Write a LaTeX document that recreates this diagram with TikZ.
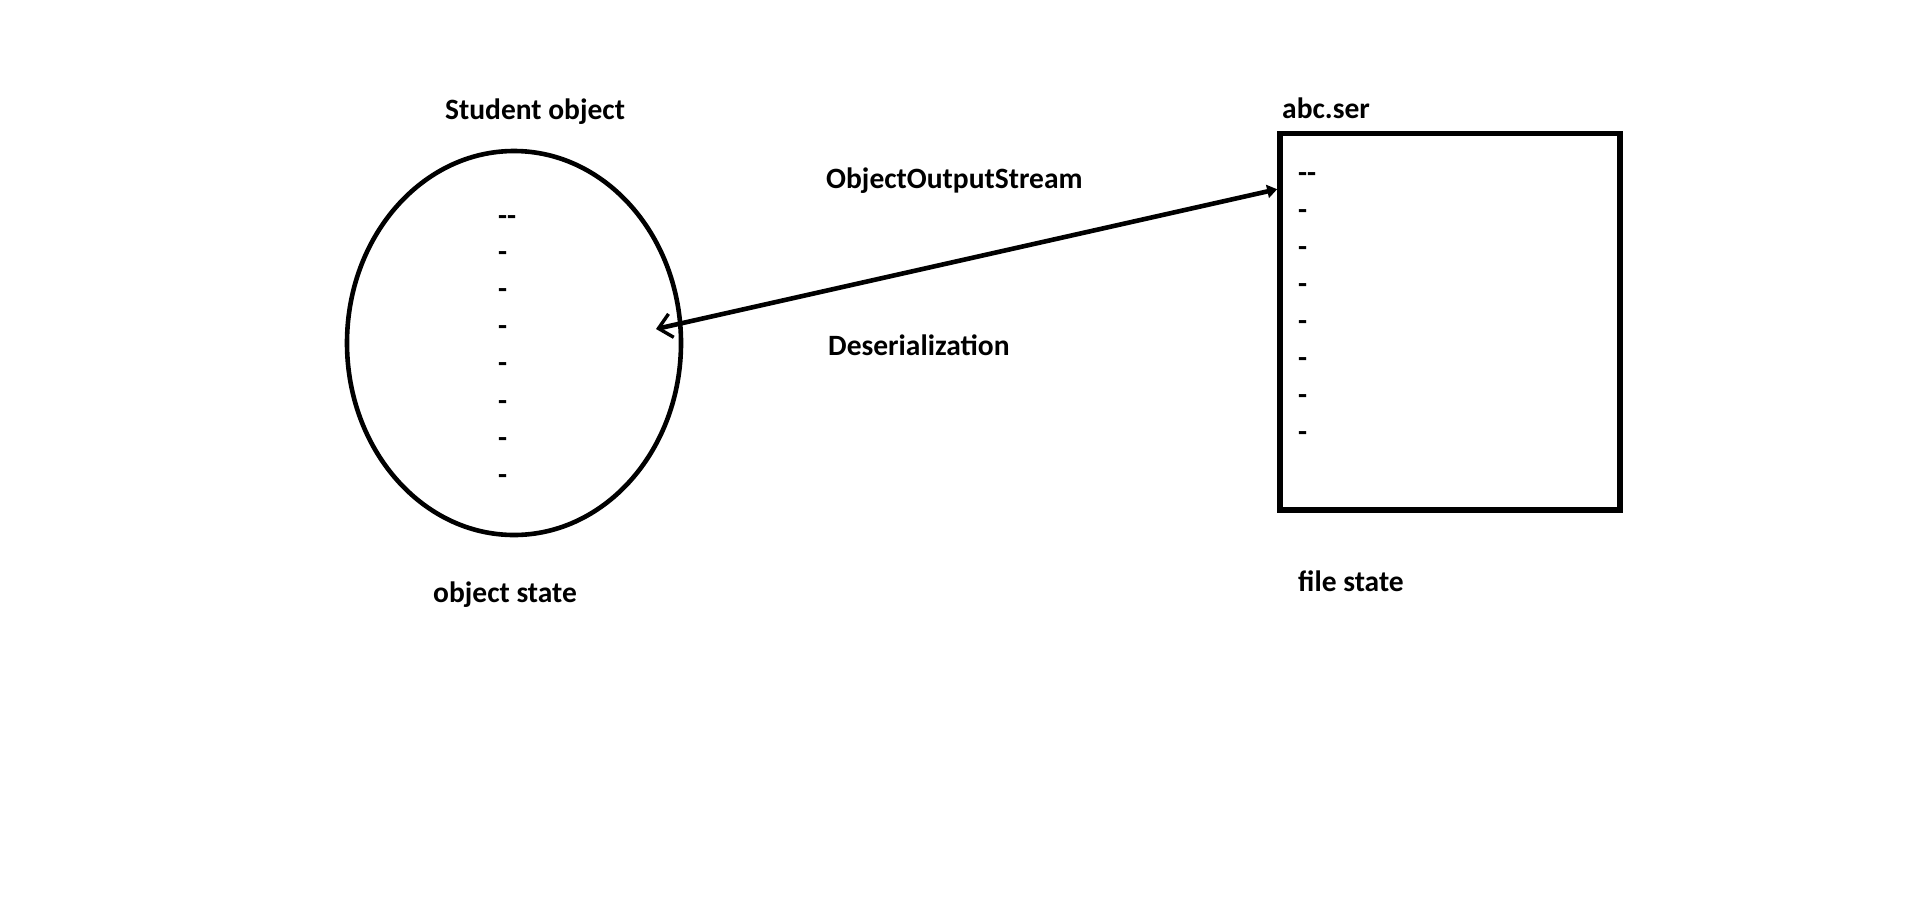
\documentclass[tikz,border=0pt]{standalone}
\usepackage{fontspec}
\setmainfont{Carlito}
\usetikzlibrary{arrows.meta,shapes.geometric,calc}
\begin{document}
\begin{tikzpicture}[x=1pt,y=-1pt,
  lbl/.style={anchor=base west,inner sep=0pt,font=\fontsize{29.5}{35}\selectfont\bfseries},
  objshape/.style={draw,ellipse,line width=4.6pt,inner sep=0pt,minimum width=334pt,minimum height=384pt},
  fileshape/.style={draw,rectangle,line width=5.6pt,inner sep=0pt,minimum width=340pt,minimum height=376.5pt},
  link/.style={line width=4.6pt,{Straight Barb[length=13pt,width=24pt,line width=3.4pt]}-{Triangle[length=10pt,width=13pt]}}]
\useasboundingbox (0,0) rectangle (1913,897);
\fill[white] (0,0) rectangle (1913,897);
% shapes
\node[objshape] (obj) at (514,343) {};
\node[fileshape] (file) at (1450,321.75) {};
% labels
\node[lbl] (t1) at (445,119.3) {Student object};
\node[lbl] (t2) at (1282,118) {abc.ser};
\node[lbl] (t3) at (826,188) {ObjectOutputStream};
\node[lbl] (t4) at (828,355) {Deserialization};
\node[lbl] (t5) at (433,602) {object state};
\node[lbl] (t6) at (1298,591) {file state};
% dashes in ellipse
\node[lbl] (e1) at (498,225) {-{}-};
\foreach \yy [count=\i] in {261,298,335,372,410,447,484}
  \node[lbl] (e\i b) at (498,\yy) {-};
% dashes in box
\node[lbl] (f1) at (1298,182) {-{}-};
\foreach \yy [count=\i] in {219,256,293,330,367,404,441}
  \node[lbl] (f\i b) at (1298,\yy) {-};
% connector
\coordinate (a) at (656,329);
\coordinate (b) at ($(file.north west)+(0,58.5)$);
\draw[link] (a) -- (b);
\end{tikzpicture}
\end{document}
